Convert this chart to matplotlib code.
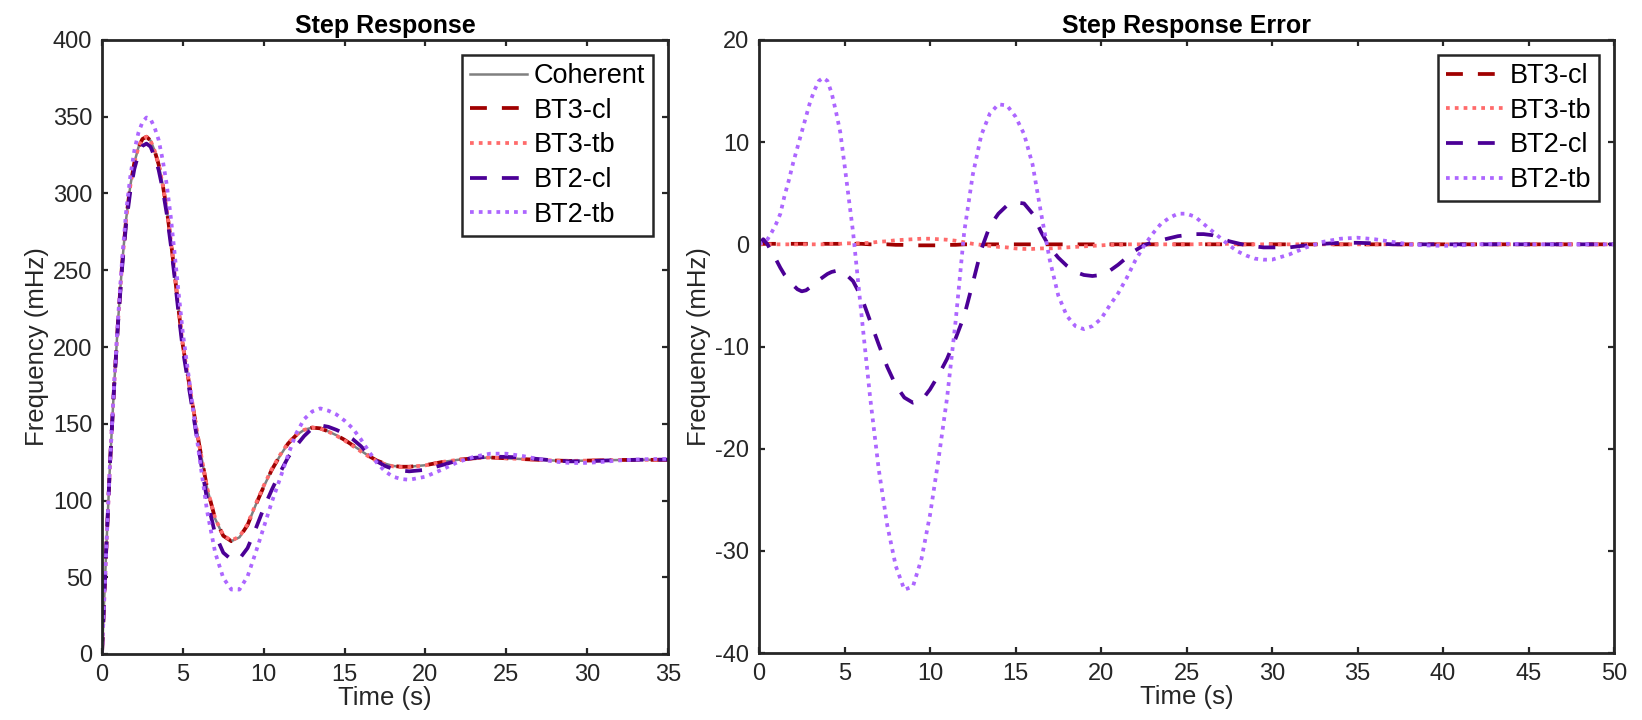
import matplotlib
matplotlib.use('Agg')
import matplotlib.pyplot as plt
import numpy as np

plt.rcParams['font.family'] = ['Liberation Sans', 'DejaVu Sans']
plt.rcParams['axes.unicode_minus'] = False

# time grids (s)
t_left = np.concatenate([np.arange(0.0, 5.01, 0.25), np.arange(5.5, 20.01, 0.5), np.arange(21.0, 35.01, 1.0)])
t_right = np.concatenate([np.arange(0.0, 5.01, 0.25), np.arange(5.5, 30.01, 0.5), np.arange(31.0, 50.01, 1.0)])

# step response (mHz)
coherent = [0, 65, 125, 175, 218, 255, 284, 305, 320, 330, 335.5, 337, 334.5, 328, 319, 306, 290, 270, 247, 223, 201,
            169, 137, 108, 88, 77, 73.5, 76, 84, 97, 109, 120, 129, 137, 142.5, 146, 147.5, 147, 145, 142.5, 139.5,
            136, 132.5, 129, 126, 124, 122.5, 122, 122, 122.5, 123,
            125, 126.5, 127.5, 128, 127.5, 127, 126.5, 126, 125.8, 126, 126.2, 126.4, 126.5, 126.5, 126.5]
bt3_cl = [0, 65, 125, 175, 218, 255, 284, 305, 320, 330, 335.5, 337, 334.5, 328, 319, 306, 290, 270, 247, 223, 201,
          169, 137, 108, 88, 77, 73.5, 76, 84, 97, 109, 120, 129, 137, 142.5, 146, 147.5, 147, 145, 142.5, 139.5,
          136, 132.5, 129, 126, 124, 122.5, 122, 122, 122.5, 123,
          125, 126.5, 127.5, 128, 127.5, 127, 126.5, 126, 125.8, 126, 126.2, 126.4, 126.5, 126.5, 126.5]
bt3_tb = [0, 65, 125, 175, 218, 255, 284, 305, 320, 330, 335.5, 337, 334.5, 328, 319, 306, 290, 270, 247, 223, 201.1,
          169.1, 137.1, 108.2, 88.3, 77.3, 73.9, 76.5, 84.5, 97.6, 109.6, 120.5, 129.5, 137.4, 142.7, 146, 147.5, 146.9,
          144.8, 142.2, 139.1, 135.6, 132, 128.6, 125.6, 123.7, 122.2, 121.8, 121.8, 122.4, 122.9,
          125, 126.5, 127.5, 128, 127.5, 127, 126.5, 126, 125.8, 126, 126.2, 126.4, 126.5, 126.5, 126.5]
bt2_cl = [0, 65.5, 125, 174, 216.5, 252.5, 281, 301.5, 316, 325.5, 331, 332.5, 330.5, 324, 315.5, 303, 287, 267, 244.5,
          220.5, 198,
          165.5, 132, 100.5, 78, 66, 61.5, 62, 69, 81.5, 95, 107, 118, 128, 135.5, 142, 147, 149, 148, 146, 143.5,
          140, 135.5, 130, 125.5, 122.5, 120.5, 119.5, 119, 119.5, 120,
          123, 126, 127.8, 128.6, 128.4, 128, 127, 126, 125.5, 125.6, 126, 126.3, 126.5, 126.6, 126.6]
bt2_tb = [0, 65, 125.5, 176, 220, 258, 289, 311, 328, 339.5, 346.5, 349.5, 348.5, 343, 335, 322, 306, 285, 260, 234, 209,
          170, 130, 93, 66, 49.5, 42, 42, 50.5, 66, 82.5, 99, 114, 129.5, 143.5, 153, 158, 160, 158.5, 156, 152,
          147, 140, 132, 124.5, 119, 115.5, 114, 113.5, 114.5, 115.5,
          120, 125, 128.5, 130.5, 130.5, 129, 127, 125.3, 124.4, 124.5, 125.2, 126.1, 126.7, 127, 127.1]

# step response error (mHz)
err_bt3_cl = [0, 0.05, 0.05, 0.05, 0.05, 0.05, 0.05, 0.05, 0.05, 0.05, 0.05, 0.05, 0.05, 0.05, 0.05, 0.05, 0.05, 0.05,
              0.05, 0.05, 0.05,
              0.05, 0.05, 0, 0, 0, -0.05, -0.05, -0.1, -0.1, -0.1, -0.1, -0.05, -0.05, 0, 0, 0, 0, 0, 0, 0,
              0, 0, 0, 0, 0, 0, 0, 0, 0, 0, 0, 0, 0, 0, 0, 0, 0, 0, 0, 0, 0, 0, 0, 0, 0, 0, 0, 0, 0, 0,
              0, 0, 0, 0, 0, 0, 0, 0, 0, 0, 0, 0, 0, 0, 0, 0, 0, 0, 0, 0]
err_bt3_tb = [0, 0, 0, 0, 0, 0, 0, 0, 0, 0, 0, 0, 0, 0, 0, 0, 0.05, 0.05, 0.05, 0.05, 0.1,
              0.1, 0.1, 0.15, 0.25, 0.3, 0.4, 0.45, 0.5, 0.55, 0.55,
              0.5, 0.45, 0.35, 0.2, 0.05, -0.05, -0.15, -0.25, -0.3, -0.4,
              -0.45, -0.45, -0.4, -0.4, -0.35, -0.3, -0.25, -0.2, -0.15, -0.1,
              -0.05, -0.05, 0, 0, 0, 0, 0, 0, 0, 0,
              0, 0.05, 0.05, 0.05, 0.05, 0, 0, 0, 0, 0,
              0, 0, 0, 0, 0, 0, 0, 0, 0, 0, 0, 0, 0, 0, 0, 0, 0, 0, 0, 0]
err_bt2_cl = [0, 0.5, 0, -0.8, -1.5, -2.3, -3.0, -3.5, -4.0, -4.4, -4.6, -4.5, -4.2, -3.8, -3.5, -3.2, -2.9, -2.7,
              -2.6, -2.6, -2.8,
              -3.6, -5.2, -7.5, -9.8, -12, -13.8, -15, -15.5, -15.3, -14.2,
              -12.8, -11.2, -9.2, -7.0, -3.8, -0.5, 1.8, 3.0, 3.8, 4.1,
              4.0, 3.0, 1.2, -0.3, -1.3, -2.1, -2.7, -3.0, -3.1, -3.0,
              -2.6, -2.0, -1.3, -0.6, -0.1, 0.2, 0.4, 0.6, 0.8, 0.9,
              1.0, 1.0, 0.9, 0.6, 0.3, 0.1, -0.1, -0.2, -0.3, -0.3,
              -0.3, -0.1, 0.05, 0.15, 0.15, 0.1, 0, 0, 0, 0, 0, 0, 0, 0, 0, 0, 0, 0, 0, 0]
err_bt2_tb = [0, 0.2, 0.5, 1.2, 2.0, 3.0, 4.8, 6.3, 8.0, 9.5, 11.0, 12.5, 14.0, 15.1, 16.0, 16.3, 16.0, 14.8, 13.0,
              11.0, 7.8,
              1.2, -7, -15, -22, -27.5, -31.5, -33.8, -33.5, -30.8, -26.5,
              -21, -15, -7.5, 1.2, 6.8, 10.7, 12.8, 13.7, 13.6, 12.5,
              10.8, 7.8, 3, -1.5, -5, -7, -8, -8.3, -8.0, -7.3,
              -6.0, -4.8, -3.3, -1.6, -0.2, 1.0, 2.0, 2.6, 3.0, 3.0,
              2.7, 2.0, 1.3, 0.6, -0.1, -0.7, -1.1, -1.4, -1.5, -1.5,
              -1.0, -0.3, 0.25, 0.55, 0.65, 0.5, 0.25, 0.0, -0.1, -0.15,
              -0.1, 0, 0.05, 0.05, 0, 0, 0, 0, 0, 0]

c_gray = '#808080'
c_bt3cl = '#A00000'
c_bt3tb = '#FF6B6B'
c_bt2cl = '#4B0096'
c_bt2tb = '#AD66FF'
dash = (0, (4.5, 4.0))
dot = (0, (1.0, 1.35))
lw = 2.7
axcol = '#262626'

fig = plt.figure(figsize=(16.42, 7.2), dpi=100)
ax1 = fig.add_axes([102 / 1642, 66 / 720, 566 / 1642, 614 / 720])
ax2 = fig.add_axes([759 / 1642, 67 / 720, 855 / 1642, 613 / 720])

ax1.plot(t_left, coherent, color=c_gray, lw=1.8, label='Coherent')
ax1.plot(t_left, bt3_cl, color=c_bt3cl, lw=lw, linestyle=dash, label='BT3-cl')
ax1.plot(t_left, bt3_tb, color=c_bt3tb, lw=lw, linestyle=dot, label='BT3-tb')
ax1.plot(t_left, bt2_cl, color=c_bt2cl, lw=lw, linestyle=dash, label='BT2-cl')
ax1.plot(t_left, bt2_tb, color=c_bt2tb, lw=lw, linestyle=dot, label='BT2-tb')

ax2.plot(t_right, err_bt3_cl, color=c_bt3cl, lw=lw, linestyle=dash, label='BT3-cl')
ax2.plot(t_right, err_bt3_tb, color=c_bt3tb, lw=lw, linestyle=dot, label='BT3-tb')
ax2.plot(t_right, err_bt2_cl, color=c_bt2cl, lw=lw, linestyle=dash, label='BT2-cl')
ax2.plot(t_right, err_bt2_tb, color=c_bt2tb, lw=lw, linestyle=dot, label='BT2-tb')

ax1.set_xlim(0, 35)
ax1.set_ylim(0, 400)
ax1.set_xticks(np.arange(0, 36, 5))
ax1.set_yticks(np.arange(0, 401, 50))
ax2.set_xlim(0, 50)
ax2.set_ylim(-40, 20)
ax2.set_xticks(np.arange(0, 51, 5))
ax2.set_yticks(np.arange(-40, 21, 10))

for ax, title in [(ax1, 'Step Response'), (ax2, 'Step Response Error')]:
    for s in ax.spines.values():
        s.set_linewidth(2.0)
        s.set_color(axcol)
    ax.tick_params(direction='in', top=True, right=True, length=4.5, width=1.6,
                   labelsize=17, colors=axcol, pad=7)
    ax.set_xlabel('Time (s)', fontsize=18.5, color=axcol, labelpad=0)
    ax.set_ylabel('Frequency (mHz)', fontsize=18.5, color=axcol, labelpad=3)
    ax.set_title(title, fontsize=18, fontweight='bold', pad=5)
    leg = ax.legend(loc='upper right', fontsize=19.5, fancybox=False, framealpha=1,
                    edgecolor=axcol, borderpad=0.3, handlelength=2.1, handletextpad=0.25,
                    labelspacing=0.32, borderaxespad=0.55)
    leg.get_frame().set_linewidth(1.8)

fig.savefig('out.png', dpi=100)
